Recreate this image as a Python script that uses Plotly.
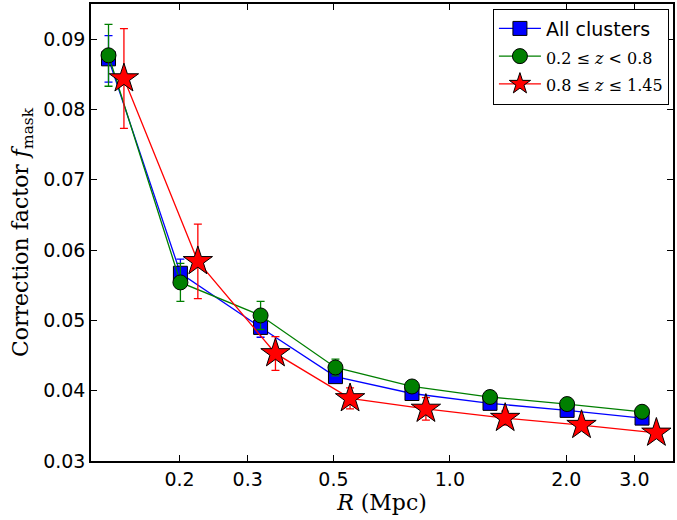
import plotly.graph_objects as go

R_all = [0.131, 0.201, 0.324, 0.506, 0.798, 1.27, 2.01, 3.14]
R_hi = [0.1436, 0.223, 0.354, 0.552, 0.867, 1.39, 2.19, 3.42]

f_all = [0.0872, 0.0567, 0.0490, 0.0420, 0.0396, 0.0382, 0.0372, 0.0361]
e_all = [0.0033, 0.0020, 0.0014, 0.0006, 0.0005, 0.0004, 0.0003, 0.0003]

f_lo = [0.0877, 0.0554, 0.0507, 0.0433, 0.0406, 0.0391, 0.0381, 0.0370]
e_lo = [0.0044, 0.0027, 0.0020, 0.0012, 0.0006, 0.0005, 0.0004, 0.0004]

f_hi = [0.0844, 0.0584, 0.0453, 0.0389, 0.0374, 0.0361, 0.0351, 0.0340]
e_hi = [0.0071, 0.0053, 0.0024, 0.0015, 0.0016, 0.0010, 0.0006, 0.0005]

x_ticks = [0.2, 0.3, 0.5, 1.0, 2.0, 3.0]
x_ticklabels = ["0.2", "0.3", "0.5", "1.0", "2.0", "3.0"]
y_ticks = [0.03, 0.04, 0.05, 0.06, 0.07, 0.08, 0.09]
y_ticklabels = ["0.03", "0.04", "0.05", "0.06", "0.07", "0.08", "0.09"]

serif = "DejaVu Serif"
sans = "DejaVu Sans"

fig = go.Figure()

def add(x, y, e, color, symbol, size, name):
    fig.add_trace(go.Scatter(
        x=x, y=y, mode="lines+markers", name=name,
        line=dict(color=color, width=1.3),
        marker=dict(symbol=symbol, size=size, color=color,
                    line=dict(color="black", width=1)),
        error_y=dict(type="data", array=e, visible=True, color=color,
                     thickness=1.3, width=4),
    ))

add(R_all, f_all, e_all, "#0000ff", "square", 14, "All clusters")
add(R_all, f_lo, e_lo, "#007f00", "circle", 15,
    "<span style='font-family:DejaVu Serif;font-size:16px'>0.2 ≤ <i>z</i> &lt; 0.8</span>")
add(R_hi, f_hi, e_hi, "#ff0000", "star", 22,
    "<span style='font-family:DejaVu Serif;font-size:16px'>0.8 ≤ <i>z</i> ≤ 1.45</span>")

fig.update_layout(
    width=677, height=520,
    margin=dict(l=91, r=2, t=3, b=59),
    paper_bgcolor="white", plot_bgcolor="white",
    font=dict(family=sans, size=19, color="black"),
    showlegend=True,
    legend=dict(x=0.993, y=0.99, xanchor="right", yanchor="top",
                bordercolor="black", borderwidth=1, bgcolor="white",
                font=dict(family=sans, size=19), itemwidth=42,
                tracegroupgap=0),
    xaxis=dict(type="log", range=[-0.928, 0.577],
               tickvals=x_ticks, ticktext=x_ticklabels,
               ticks="inside", ticklen=6, tickwidth=1, tickcolor="black",
               showline=True, linecolor="black", linewidth=1.5, mirror="ticks",
               showgrid=False, zeroline=False,
               tickfont=dict(family=sans, size=19),
               title=dict(text="<i>R</i> (Mpc)", font=dict(family=serif, size=22), standoff=6)),
    yaxis=dict(range=[0.03, 0.095],
               tickvals=y_ticks, ticktext=y_ticklabels,
               ticks="inside", ticklen=6, tickwidth=1, tickcolor="black",
               showline=True, linecolor="black", linewidth=1.5, mirror="ticks",
               showgrid=False, zeroline=False,
               tickfont=dict(family=sans, size=19),
               title=dict(text="Correction factor <i>f</i><sub>mask</sub>", font=dict(family=serif, size=22), standoff=8)),
)

fig.write_html("out.html", config={"displayModeBar": False},
               post_script="document.body.style.margin='0';")
